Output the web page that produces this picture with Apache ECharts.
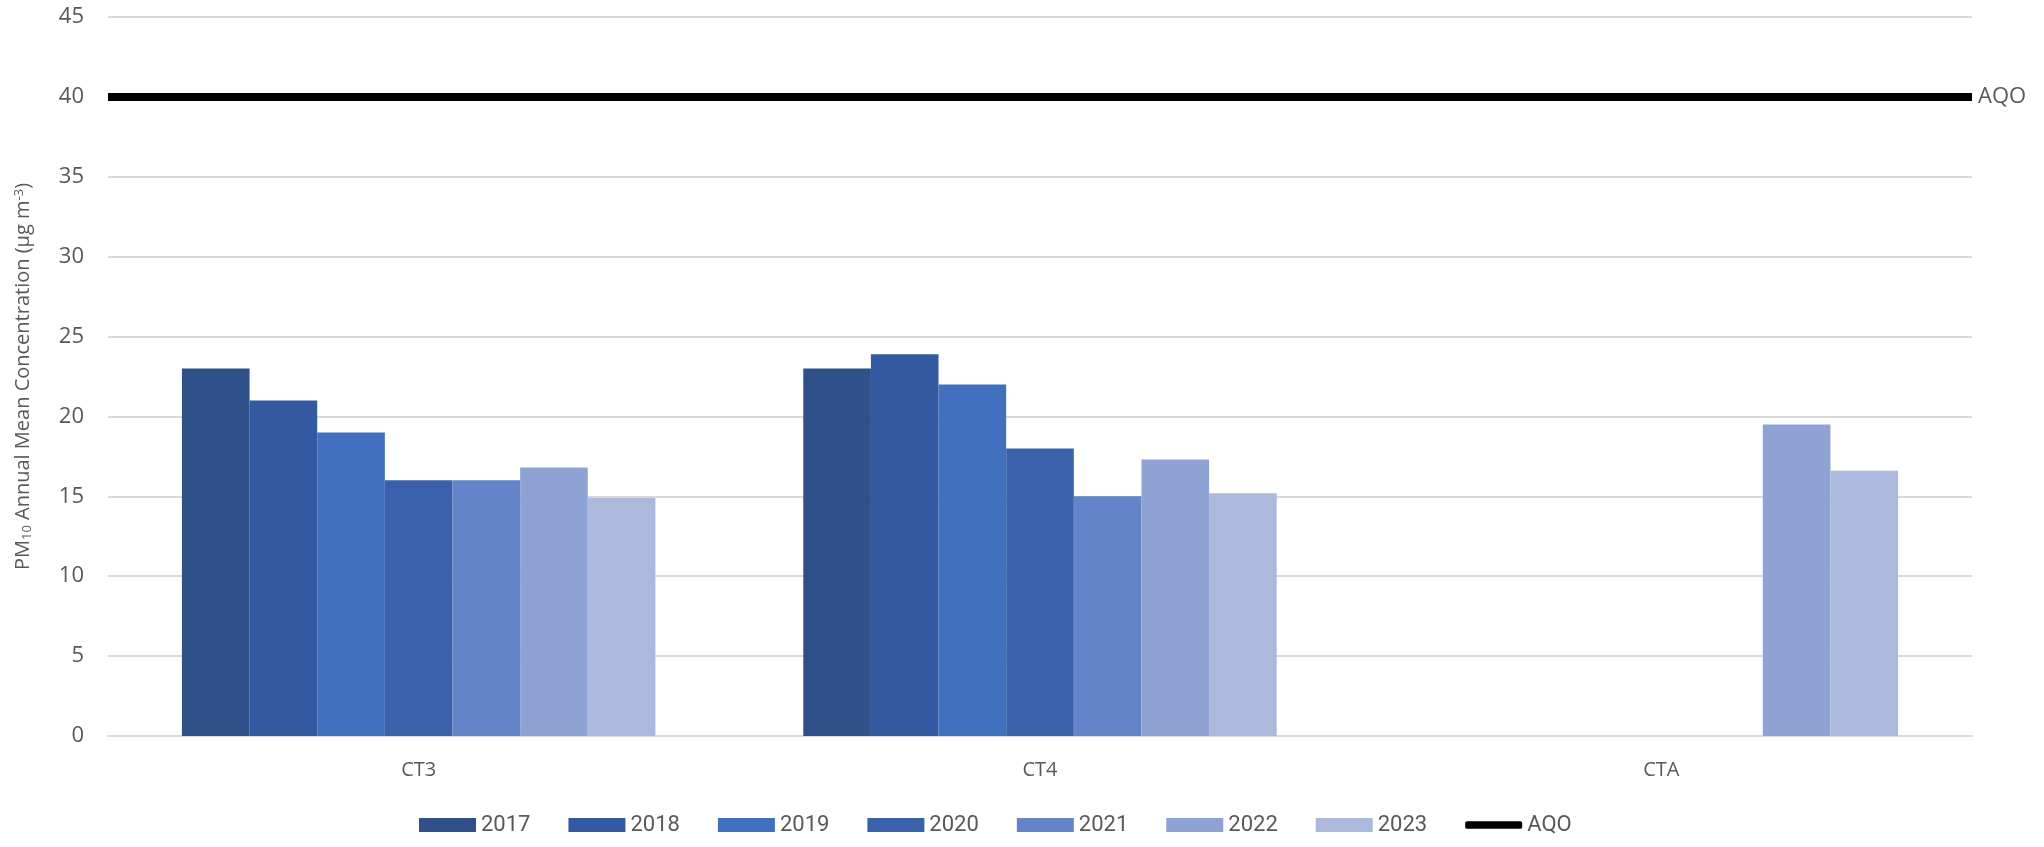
<!DOCTYPE html>
<html>
<head>
<meta charset="utf-8">
<script src="https://cdn.jsdelivr.net/npm/echarts@6/dist/echarts.min.js"></script>
<style>
html,body{margin:0;padding:0;background:#fff;}
#chart{width:2044px;height:847px;}
</style>
</head>
<body>
<div id="chart"></div>
<script>
const categories = ['CT3', 'CT4', 'CTA'];
const years = ['2017', '2018', '2019', '2020', '2021', '2022', '2023'];
const v2017 = [23, 23, null];
const v2018 = [21, 23.9, null];
const v2019 = [19, 22, null];
const v2020 = [16, 18, null];
const v2021 = [16, 15, null];
const v2022 = [16.8, 17.3, 19.5];
const v2023 = [14.9, 15.2, 16.6];
const aqoValues = [40, 40];
const yTicks = { min: 0, max: 45, interval: 5 };

const yearValues = [v2017, v2018, v2019, v2020, v2021, v2022, v2023];
const colors = ['#2F5089', '#3359A0', '#4170BF', '#3A62AC', '#6384C8', '#8FA2D4', '#ADB9DC'];

const chart = echarts.init(document.getElementById('chart'));
const barSeries = years.map((y, i) => ({
  name: y,
  type: 'bar',
  data: yearValues[i],
  barGap: '0%',
  barCategoryGap: '23.8%',
  itemStyle: { color: colors[i] },
  xAxisIndex: 0
}));

chart.setOption({
  animation: false,
  backgroundColor: '#ffffff',
  grid: { left: 108, right: 72, top: 17, bottom: 111, containLabel: false },
  legend: {
    bottom: 6,
    left: 414,
    itemWidth: 57,
    itemHeight: 14,
    itemGap: 38,
    symbolKeepAspect: true,
    textStyle: { fontFamily: 'Liberation Sans Narrow, Roboto, sans-serif', fontSize: 22, color: '#595959' },
    data: years.map(y => ({ name: y, icon: 'rect' })).concat([{
      name: 'AQO',
      icon: 'path://M2,0 L58,0 Q60,0 60,2 L60,6 Q60,8 58,8 L2,8 Q0,8 0,6 L0,2 Q0,0 2,0 Z',
      itemStyle: { color: '#000000' }
    }])
  },
  xAxis: [
    {
      type: 'category',
      data: categories,
      axisLine: { show: true, lineStyle: { color: '#d9d9d9', width: 2 } },
      axisTick: { show: false },
      axisLabel: { fontFamily: 'Open Sans, sans-serif', fontSize: 20, color: '#595959', margin: 24 }
    },
    {
      type: 'category',
      data: ['a', 'b'],
      boundaryGap: false,
      show: false
    }
  ],
  yAxis: {
    type: 'value',
    min: yTicks.min,
    max: yTicks.max,
    interval: yTicks.interval,
    axisLine: { show: false },
    axisTick: { show: false },
    splitLine: { lineStyle: { color: '#d9d9d9', width: 2 } },
    axisLabel: { fontFamily: 'Open Sans, sans-serif', fontSize: 22, color: '#595959', margin: 24 },
    name: '{n|PM}{sub|10}{n| Annual Mean Concentration (µg m}{sup|-3}{n|)}',
    nameLocation: 'middle',
    nameGap: 74,
    nameRotate: 90,
    nameTextStyle: {
      rich: {
        n: { fontFamily: 'Open Sans, sans-serif', fontSize: 20, color: '#595959' },
        sub: { fontFamily: 'Open Sans, sans-serif', fontSize: 13, color: '#595959', verticalAlign: 'bottom', padding: [8, 0, 0, 0] },
        sup: { fontFamily: 'Open Sans, sans-serif', fontSize: 13, color: '#595959', verticalAlign: 'top', padding: [0, 0, 8, 0] }
      }
    }
  },
  series: barSeries.concat([{
    name: 'AQO',
    type: 'line',
    xAxisIndex: 1,
    data: aqoValues,
    symbol: 'none',
    lineStyle: { color: '#000000', width: 8 },
    itemStyle: { color: '#000000' },
    endLabel: { show: true, formatter: 'AQO', fontFamily: 'Open Sans, sans-serif', fontSize: 22, color: '#595959', distance: 6 }
  }])
});
</script>
</body>
</html>
